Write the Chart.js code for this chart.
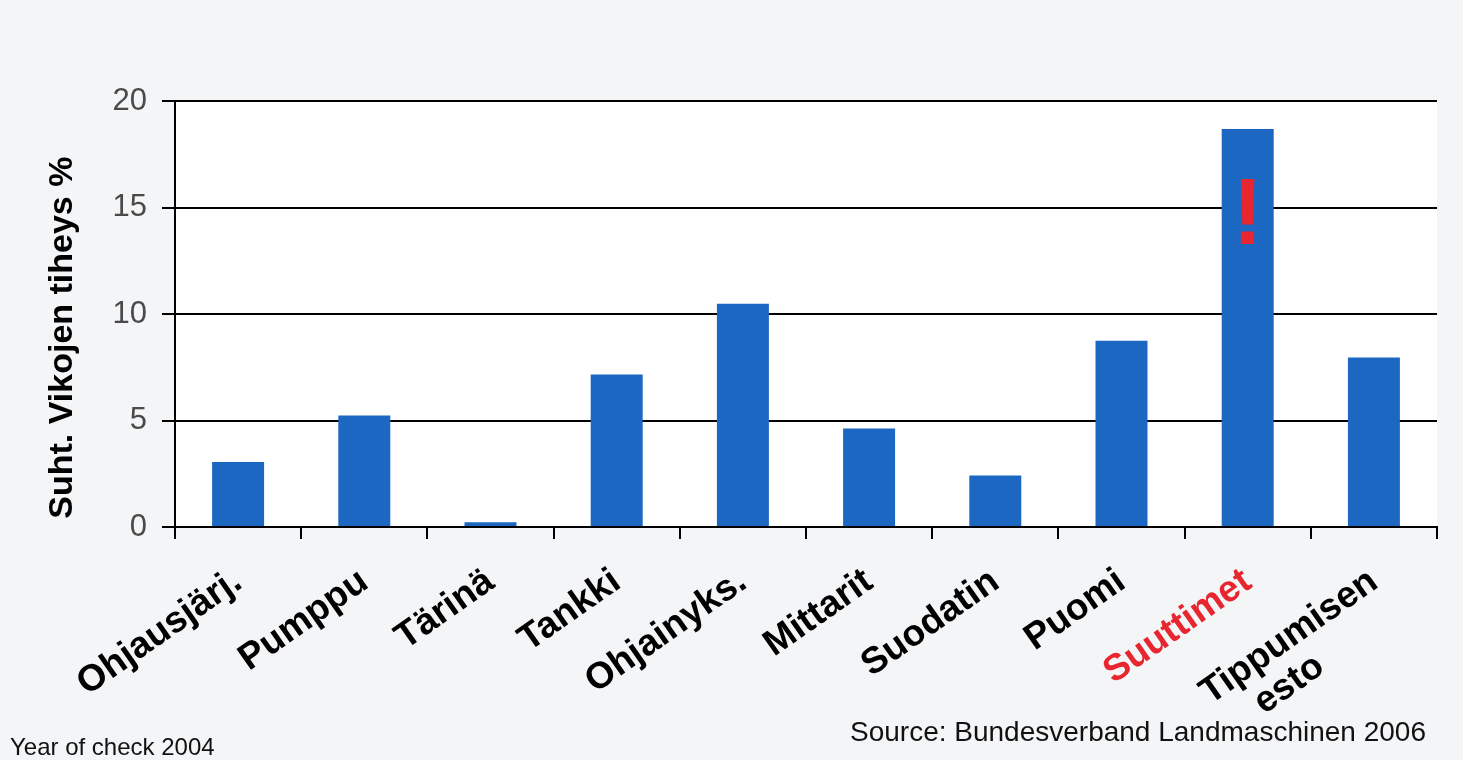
<!DOCTYPE html>
<html>
<head>
<meta charset="utf-8">
<script src="https://cdn.jsdelivr.net/npm/chart.js@4.4.1/dist/chart.umd.min.js"></script>
<style>
    body { margin: 0; background: #f4f5f7; font-family: "Liberation Sans", Arial, sans-serif; }
    #wrap { position: relative; width: 1463px; height: 760px; }
    .note { position: absolute; color: #111; white-space: nowrap; line-height: 1; }
</style>
</head>
<body>
<div id="wrap">
    <canvas id="faultChart" width="1463" height="760"></canvas>
    <div class="note" id="year" style="left:10px; top:735px; font-size:24px;">Year of check 2004</div>
    <div class="note" id="source" style="left:850px; top:718px; font-size:28px;">Source: Bundesverband Landmaschinen 2006</div>
</div>
<script>
// Data
const categories = ["Ohjausjärj.", "Pumppu", "Tärinä", "Tankki", "Ohjainyks.", "Mittarit",
    "Suodatin", "Puomi", "Suuttimet", ["Tippumisen", "esto         "]];
const faultRates = [3.05, 5.24, 0.22, 7.16, 10.48, 4.63, 2.42, 8.75, 18.68, 7.96];
const yTicks = [0, 5, 10, 15, 20];

const highlightIndex = 8;   // Suuttimet
const markValue = 13.3;     // where the "!" sits inside the highlighted bar

const blue = "#1b67c2";
const red = "#e8262f";
const fontFamily = '"Liberation Sans", Arial, sans-serif';

// white plot area and the red exclamation mark
const extras = {
    id: "extras",
    beforeDraw(chart) {
        const { ctx, chartArea: a } = chart;
        ctx.save();
        ctx.fillStyle = "#ffffff";
        ctx.fillRect(a.left, a.top, a.right - a.left, a.bottom - a.top);
        ctx.restore();
    },
    afterDatasetsDraw(chart) {
        const { ctx } = chart;
        const bar = chart.getDatasetMeta(0).data[highlightIndex];
        const y = chart.scales.y.getPixelForValue(markValue);
        ctx.save();
        ctx.fillStyle = red;
        ctx.font = "bold 94px " + fontFamily;
        ctx.textAlign = "center";
        ctx.textBaseline = "alphabetic";
        ctx.fillText("!", bar.x, y);
        ctx.restore();
    }
};

const ctx = document.getElementById("faultChart").getContext("2d");
const faultChart = new Chart(ctx, {
    type: "bar",
    data: {
        labels: categories,
        datasets: [{
            data: faultRates,
            backgroundColor: blue,
            borderWidth: 0,
            categoryPercentage: 1,
            barPercentage: 0.412
        }]
    },
    options: {
        responsive: false,
        animation: false,
        layout: { padding: { top: 101, right: 26, left: 0, bottom: 0 } },
        plugins: {
            legend: { display: false },
            tooltip: { enabled: false }
        },
        scales: {
            x: {
                afterFit: (s) => { s.height = 233; },
                grid: {
                    offset: true,
                    drawOnChartArea: false,
                    drawTicks: true,
                    tickLength: 12,
                    color: "#000",
                    lineWidth: 2
                },
                border: { display: true, color: "#000", width: 2 },
                ticks: {
                    autoSkip: false,
                    minRotation: 35,
                    maxRotation: 35,
                    padding: 23,
                    color: (c) => c.index === highlightIndex ? red : "#000",
                    font: { family: fontFamily, size: 37, weight: "bold", lineHeight: 1.05 }
                }
            },
            y: {
                min: 0,
                max: 20,
                afterFit: (s) => { s.width = 175; },
                afterBuildTicks: (s) => { s.ticks = yTicks.map(v => ({ value: v })); },
                grid: {
                    color: "#000",
                    lineWidth: 2,
                    tickLength: 13
                },
                border: { display: true, color: "#000", width: 2 },
                ticks: {
                    padding: 15,
                    color: "#4a4a4a",
                    font: { family: fontFamily, size: 31 }
                },
                title: {
                    display: true,
                    text: "Suht. Vikojen tiheys %     ",
                    color: "#000",
                    padding: { top: 42, bottom: 0 },
                    font: { family: fontFamily, size: 34, weight: "bold", lineHeight: 1.2 }
                }
            }
        }
    },
    plugins: [extras]
});
</script>
</body>
</html>
